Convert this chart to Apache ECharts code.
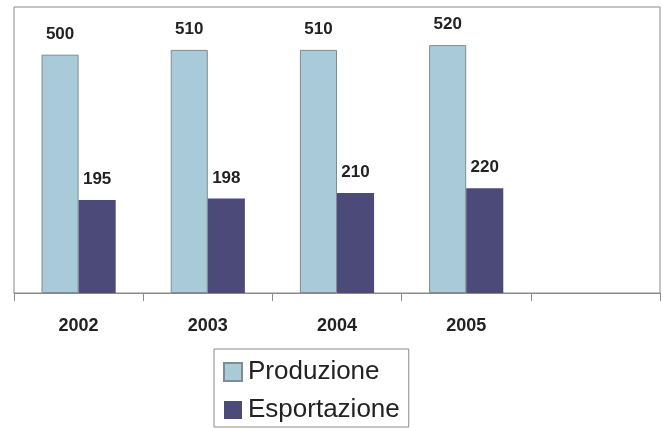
<!DOCTYPE html>
<html>
<head>
<meta charset="utf-8">
<script src="https://cdn.jsdelivr.net/npm/echarts@6/dist/echarts.min.js"></script>
<style>
	html, body { margin: 0; padding: 0; background: #fff; }
	#main { width: 663px; height: 428px; }
</style>
</head>
<body>
<div id="main"></div>
<script>
var anni = ['2002', '2003', '2004', '2005', ''];
var produzione = [500, 510, 510, 520];
var esportazione = [195, 198, 210, 220];

var myChart = echarts.init(document.getElementById('main'));
var option = {
	color: ['#a9cbd9', '#4b4a78'],
	animation: false,
	grid: {
		left: 14,
		right: 3,
		top: 7,
		bottom: 135,
		show: true,
		borderColor: '#8a8a8a',
		borderWidth: 1
	},
	legend: {
		orient: 'vertical',
		left: 214,
		top: 349,
		padding: [10, 9, 4, 9],
		itemGap: 12,
		itemWidth: 18,
		itemHeight: 18,
		icon: 'rect',
		borderColor: '#8a8a8a',
		borderWidth: 1,
		textStyle: {
			fontFamily: 'Liberation Sans',
			fontSize: 26,
			color: '#222',
			padding: [0, 0, 0, 1]
		},
		data: ['Produzione', 'Esportazione']
	},
	xAxis: {
		type: 'category',
		data: anni,
		axisLine: { lineStyle: { color: '#8a8a8a', width: 1 } },
		axisTick: { show: true, length: 8, lineStyle: { color: '#8a8a8a' } },
		axisLabel: {
			margin: 24,
			fontFamily: 'Liberation Sans',
			fontWeight: 'bold',
			fontSize: 18,
			color: '#222'
		}
	},
	yAxis: {
		type: 'value',
		min: 0,
		max: 600,
		show: false
	},
	series: [
		{
			name: 'Produzione',
			type: 'bar',
			data: produzione,
			barGap: '0%',
			barCategoryGap: '42.6%',
			itemStyle: { borderColor: '#7f8c92', borderWidth: 1 },
			label: {
				show: true,
				position: 'top',
				distance: 12,
				fontFamily: 'Liberation Sans',
				fontWeight: 'bold',
				fontSize: 17,
				color: '#222'
			}
		},
		{
			name: 'Esportazione',
			type: 'bar',
			data: esportazione,
			itemStyle: { borderColor: '#4b4a78', borderWidth: 0 },
			label: {
				show: true,
				position: 'top',
				distance: 12,
				fontFamily: 'Liberation Sans',
				fontWeight: 'bold',
				fontSize: 17,
				color: '#222'
			}
		}
	]
};
myChart.setOption(option);
</script>
</body>
</html>
